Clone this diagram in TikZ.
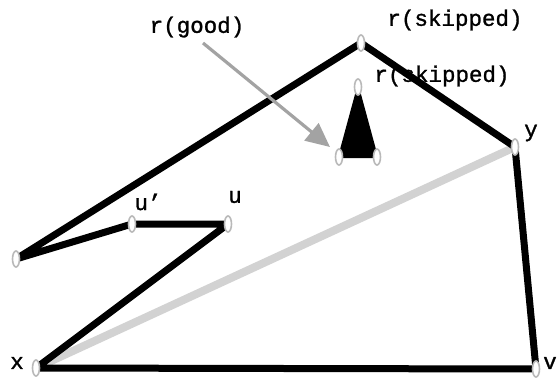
\documentclass[tikz,border=0pt]{standalone}
\usepackage{fontspec}
\setmonofont[FakeBold=1.2]{Liberation Mono}
\usetikzlibrary{arrows.meta,shapes.geometric}
\begin{document}
\begin{tikzpicture}[x=1pt,y=-1pt,
  pt/.style={ellipse,draw=gray!55,line width=1.6pt,fill=white,minimum width=7pt,minimum height=16pt,inner sep=0pt},
  lab/.style={font=\ttfamily\fontsize{22.5}{22.5}\selectfont,inner sep=0pt},
  edge/.style={line width=7pt,line join=round},
  ptr/.style={draw=gray!80!black!60,line width=3.2pt,-{Triangle[length=24pt,width=22pt]}}]
\useasboundingbox (0,0) rectangle (558,381);
% coordinates
\coordinate (X) at (36,368);
\coordinate (V) at (536,369);
\coordinate (Y) at (515,147);
\coordinate (R) at (361,43);
\coordinate (L) at (16,259);
\coordinate (UP) at (132,224);
\coordinate (U) at (228,224);
\coordinate (TA) at (358,87);
\coordinate (TL) at (339,157);
\coordinate (TR) at (377,157);
% gray line
\draw[line width=8pt,gray!35] (X) -- (Y);
% polygon
\draw[edge] (X) -- (V) -- (Y) -- (R) -- (L) -- (UP) -- (U) -- (X);
% triangle
\fill[black,draw=black,line width=2pt,line join=round] (TA) -- (TR) -- (TL) -- cycle;
% nodes
\node[pt] (nx) at (X) {};
\node[pt] (nv) at (V) {};
\node[pt] (ny) at (Y) {};
\node[pt] (nr) at (R) {};
\node[pt] (nl) at (L) {};
\node[pt] (nup) at (UP) {};
\node[pt] (nu) at (U) {};
\node[pt] (nta) at (TA) {};
\node[pt] (ntl) at (TL) {};
\node[pt] (ntr) at (TR) {};
% labels
\node[lab] (lr1) at (455,20) {r(skipped)};
\node[lab] (lr2) at (442,76) {r(skipped)};
\node[lab] (lg) at (197,27) {r(good)};
\node[lab] (ly) at (531,133) {y};
\node[lab] (lup) at (148,202) {u’};
\node[lab] (lu) at (235,197) {u};
\node[lab] (lx) at (17,363) {x};
\node[lab] (lv) at (550,363) {v};
% arrow
\coordinate (AS) at (203,43);
\coordinate (AT) at (330,147);
\draw[ptr] (AS) -- (AT);
\end{tikzpicture}
\end{document}
